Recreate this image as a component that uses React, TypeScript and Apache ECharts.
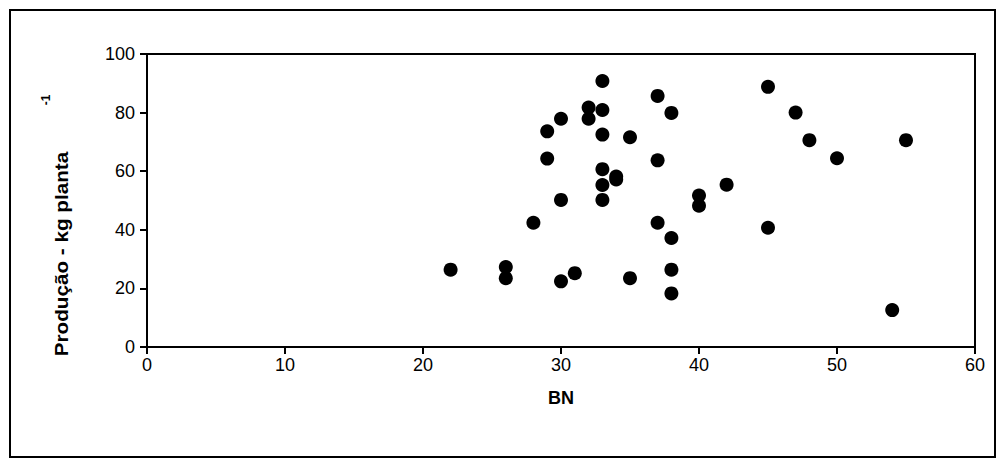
import React, { useEffect, useRef } from "react";
import * as echarts from "echarts";

const bnValues = [22, 26, 26, 28, 29, 29, 30, 30, 30, 31, 32, 32, 33, 33, 33, 33, 33, 33, 34, 34, 35, 35, 37, 37, 37, 38, 38, 38, 38, 40, 40, 42, 45, 45, 47, 48, 50, 54, 55];
const producaoValues = [26.4, 27.3, 23.5, 42.4, 73.6, 64.3, 77.9, 50.2, 22.4, 25.2, 81.7, 77.9, 90.8, 80.9, 72.5, 60.7, 55.3, 50.2, 58.2, 57.2, 71.6, 23.5, 85.7, 63.7, 42.4, 79.9, 37.2, 26.4, 18.3, 51.7, 48.2, 55.4, 88.8, 40.7, 80.0, 70.6, 64.4, 12.6, 70.6];
const xTicks = [0, 10, 20, 30, 40, 50, 60];
const yTicks = [0, 20, 40, 60, 80, 100];

const FONT = "Liberation Sans, Arial, sans-serif";

export default function App() {
  const ref = useRef<HTMLDivElement>(null);
  useEffect(() => {
    if (!ref.current) return;
    const chart = echarts.init(ref.current, null, { renderer: "svg" });
    const data = bnValues.map((x, i) => [x, producaoValues[i]]);
    chart.setOption({
      animation: false,
      backgroundColor: "#fff",
      textStyle: { fontFamily: FONT },
      grid: {
        left: 147,
        right: 27,
        top: 54,
        bottom: 118,
        show: true,
        borderColor: "#000",
        borderWidth: 2,
        backgroundColor: "transparent",
      },
      xAxis: {
        type: "value",
        min: xTicks[0],
        max: xTicks[xTicks.length - 1],
        interval: 10,
        name: "BN",
        nameLocation: "middle",
        nameGap: 42,
        nameTextStyle: { color: "#000", fontSize: 18, fontWeight: "bold", fontFamily: FONT },
        axisLine: { show: true, onZero: false, lineStyle: { color: "#000", width: 2 } },
        axisTick: { show: true, inside: false, length: 7, lineStyle: { color: "#000", width: 2 } },
        axisLabel: { color: "#000", fontSize: 18, margin: 9, fontFamily: FONT },
        splitLine: { show: false },
      },
      yAxis: {
        type: "value",
        min: yTicks[0],
        max: yTicks[yTicks.length - 1],
        interval: 20,
        axisLine: { show: true, onZero: false, lineStyle: { color: "#000", width: 2 } },
        axisTick: { show: true, inside: false, length: 7, lineStyle: { color: "#000", width: 2 } },
        axisLabel: { color: "#000", fontSize: 18, margin: 12, fontFamily: FONT },
        splitLine: { show: false },
      },
      graphic: [
        {
          type: "rect",
          shape: { x: 10, y: 10, width: 985, height: 447 },
          style: { fill: "none", stroke: "#000", lineWidth: 2 },
          silent: true,
          z: -1,
        },
        {
          type: "text",
          x: 62,
          y: 254,
          rotation: Math.PI / 2,
          scaleX: 1.15,
          style: {
            text: "Produção - kg planta",
            font: "bold 18px 'Liberation Sans', Arial, sans-serif",
            fill: "#000",
            align: "center",
            verticalAlign: "middle",
          },
        },
        {
          type: "text",
          x: 46,
          y: 100,
          rotation: Math.PI / 2,
          style: {
            text: "-1",
            font: "bold 12px 'Liberation Sans', Arial, sans-serif",
            fill: "#000",
            align: "center",
            verticalAlign: "middle",
          },
        },
      ],
      series: [
        {
          type: "scatter",
          data,
          symbol: "circle",
          symbolSize: 14,
          itemStyle: { color: "#000", opacity: 1 },
        },
      ],
    });
    return () => chart.dispose();
  }, []);
  return <div ref={ref} style={{ width: 1002, height: 465, position: "absolute", left: 0, top: 0 }} />;
}
